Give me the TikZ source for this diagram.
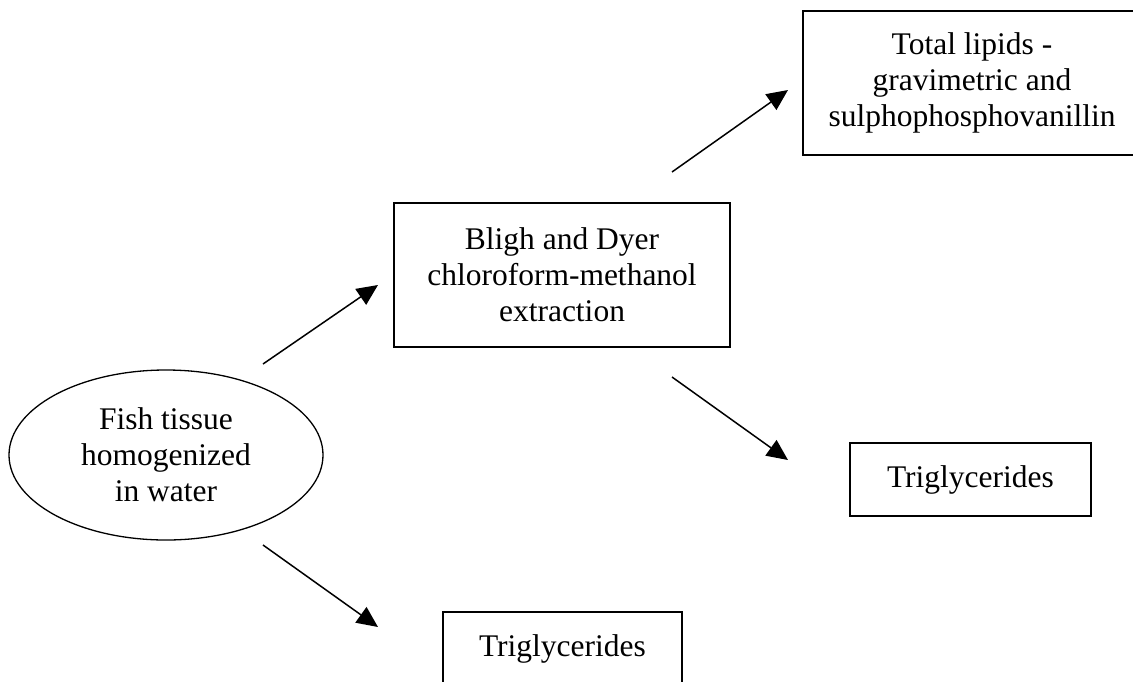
\documentclass[tikz,border=0pt]{standalone}
\usepackage{fontspec}
\setmainfont{Liberation Serif}
\usetikzlibrary{arrows.meta,shapes.geometric}
\begin{document}
\begin{tikzpicture}[x=1pt,y=-1pt,
  txt/.style={font=\fontsize{31.5}{36}\selectfont},
  box/.style={txt, draw, line width=1.4pt, rectangle, align=center, inner sep=0pt},
  oval/.style={txt, draw, line width=1.3pt, ellipse, align=center, inner sep=0pt,
    minimum width=314pt, minimum height=170pt},
  arr/.style={line width=1.5pt, -{Triangle[length=21pt,width=19pt]}}]
\clip (0,0) rectangle (1133,681);
\fill[white] (0,0) rectangle (1133,681);
\node[oval] (fish) at (166,455) {Fish tissue\\homogenized\\in water};
\node[box, minimum width=336pt, minimum height=144pt] (bligh) at (562,275)
  {Bligh and Dyer\\chloroform-methanol\\extraction};
\node[box, minimum width=338pt, minimum height=144pt] (total) at (972,83)
  {Total lipids -\\gravimetric and\\sulphophosphovanillin};
\node[box, minimum width=241pt, minimum height=73pt] (trig1) at (970.5,479.5) {Triglycerides};
\node[box, minimum width=239pt, minimum height=73pt] (trig2) at (562.5,648.5) {Triglycerides};
\coordinate (a1s) at (263,364);
\coordinate (a1e) at (378,285);
\coordinate (a2s) at (672,172);
\coordinate (a2e) at (788,90);
\coordinate (a3s) at (672,377);
\coordinate (a3e) at (788,460);
\coordinate (a4s) at (263,545);
\coordinate (a4e) at (378,627);
\draw[arr] (a1s) -- (a1e);
\draw[arr] (a2s) -- (a2e);
\draw[arr] (a3s) -- (a3e);
\draw[arr] (a4s) -- (a4e);
\end{tikzpicture}
\end{document}
